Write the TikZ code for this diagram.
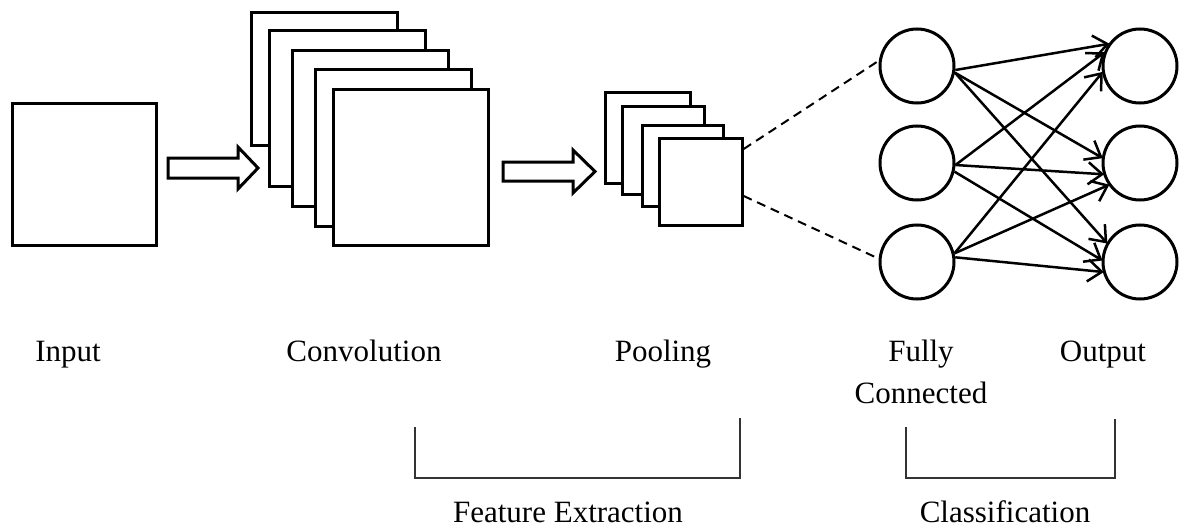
\documentclass[tikz,border=0pt]{standalone}
\usepackage{fontspec}
\setmainfont{Liberation Serif}
\usetikzlibrary{arrows.meta,calc}
\tikzset{
  fmap/.style={draw, fill=white, line width=3pt, inner sep=0pt},
  neuron/.style={draw, circle, line width=3pt, minimum size=74pt, inner sep=0pt},
  blockarrow/.style={draw, fill=white, line width=3pt, line join=miter},
  conn/.style={line width=2.5pt, -{Straight Barb[length=14pt, width=22pt, line width=2.5pt]}, shorten >=-1pt},
  link/.style={line width=2pt, dash pattern=on 9pt off 6pt},
  brace/.style={line width=1.5pt, draw=black!80},
  lbl/.style={anchor=base, inner sep=0pt, font=\fontsize{31}{40}\selectfont}
}
\begin{document}
\begin{tikzpicture}[x=1pt, y=-1pt]
\useasboundingbox (0,0) rectangle (1179,527);

% input image
\node[fmap, minimum width=144pt, minimum height=141pt] (In) at (84,174.5) {};

% block arrow into the convolution stage
\draw[blockarrow] (168,158) -- (238,158) -- (238,147) -- (258,168) -- (238,189) -- (238,178) -- (168,178) -- cycle;

% convolution feature maps, back to front
\node[fmap, minimum width=146pt, minimum height=132pt] (C1) at (324,79) {};
\node[fmap, minimum width=156pt, minimum height=155pt] (C2) at (347,108.5) {};
\node[fmap, minimum width=156pt, minimum height=155pt] (C3) at (370,128.5) {};
\node[fmap, minimum width=156pt, minimum height=156pt] (C4) at (393,148) {};
\node[fmap, minimum width=155pt, minimum height=155pt] (C5) at (410.5,167.5) {};

% block arrow into the pooling stage
\draw[blockarrow] (503,162) -- (573,162) -- (573,150) -- (595,171.5) -- (573,193) -- (573,181) -- (503,181) -- cycle;

% pooled maps, back to front
\node[fmap, minimum width=85pt, minimum height=90pt] (P1) at (647.5,138) {};
\node[fmap, minimum width=82pt, minimum height=87pt] (P2) at (663,150.5) {};
\node[fmap, minimum width=81pt, minimum height=81pt] (P3) at (682.5,165.5) {};
\node[fmap, minimum width=83pt, minimum height=87pt] (P4) at (700.5,181.5) {};

% fully connected layer and output layer
\node[neuron] (L1) at (917,66) {};
\node[neuron] (L2) at (917,163) {};
\node[neuron] (L3) at (917,262) {};
\node[neuron] (R1) at (1140,66) {};
\node[neuron] (R2) at (1140,163) {};
\node[neuron] (R3) at (1140,262) {};

% projection from the pooled maps to the dense layer
\coordinate (pa) at ($(P4.north east)!0.14!(P4.south east)$);
\coordinate (pb) at ($(P4.north east)!0.66!(P4.south east)$);
\draw[link] (pa) -- (L1.172);
\draw[link] (pb) -- (L3.175);

% dense connections
\draw[conn] (L1.-6)  -- (R1.145);
\draw[conn] (L1.-10) -- (R2.172);
\draw[conn] (L1.-10) -- (R3.150);
\draw[conn] (L2.-3)  -- (R1.160);
\draw[conn] (L2.-3)  -- (R2.197);
\draw[conn] (L2.-13) -- (R3.177);
\draw[conn] (L3.13)  -- (R1.190);
\draw[conn] (L3.13)  -- (R2.215);
\draw[conn] (L3.7)   -- (R3.195);

% stage labels
\node[lbl] (tIn)  at (68,361)  {Input};
\node[lbl] (tCv)  at (364,361) {Convolution};
\node[lbl] (tPl)  at (663,361) {Pooling};
\node[lbl] (tFc1) at (921,361) {Fully};
\node[lbl] (tFc2) at (921,403) {Connected};
\node[lbl] (tOut) at (1103,361) {Output};

% grouping brackets
\coordinate (fa) at (415,427);
\coordinate (fb) at (740,418);
\draw[brace] (fa) -- (fa |- 0,478) -- (fb |- 0,478) -- (fb);
\coordinate (ca) at (906,427);
\coordinate (cb) at (1115,419);
\draw[brace] (ca) -- (ca |- 0,478) -- (cb |- 0,478) -- (cb);

\node[lbl] (tFe) at (568,522)  {Feature Extraction};
\node[lbl] (tCl) at (1005,522) {Classification};
\end{tikzpicture}
\end{document}
